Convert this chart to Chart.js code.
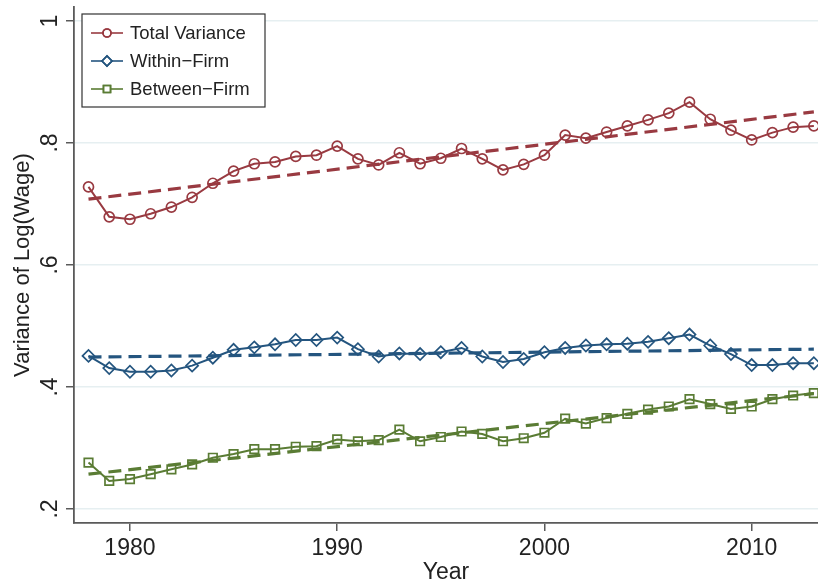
<!DOCTYPE html>
<html>
<head>
<meta charset="utf-8">
<title>Variance of Log(Wage)</title>
<script src="https://cdn.jsdelivr.net/npm/chart.js@4.4.1/dist/chart.umd.min.js"></script>
<style>
    html, body { margin: 0; padding: 0; background: #fff; }
    #wrap { width: 818px; height: 587px; }
</style>
</head>
<body>
<div id="wrap"><canvas id="chart" width="818" height="587"></canvas></div>
<script>
// Years on the x axis
const years = [1978, 1979, 1980, 1981, 1982, 1983, 1984, 1985, 1986, 1987, 1988, 1989,
    1990, 1991, 1992, 1993, 1994, 1995, 1996, 1997, 1998, 1999, 2000, 2001,
    2002, 2003, 2004, 2005, 2006, 2007, 2008, 2009, 2010, 2011, 2012, 2013];

// Series values
const totalVariance = [0.728, 0.679, 0.675, 0.684, 0.695, 0.711, 0.734, 0.754, 0.766, 0.769, 0.778, 0.780,
    0.795, 0.774, 0.764, 0.784, 0.766, 0.775, 0.791, 0.774, 0.756, 0.765, 0.780, 0.813,
    0.808, 0.818, 0.828, 0.838, 0.849, 0.867, 0.839, 0.821, 0.805, 0.817, 0.826, 0.828];
const withinFirm = [0.451, 0.431, 0.425, 0.425, 0.427, 0.435, 0.448, 0.461, 0.465, 0.470, 0.477, 0.477,
    0.481, 0.462, 0.450, 0.455, 0.454, 0.457, 0.464, 0.450, 0.441, 0.446, 0.457, 0.464,
    0.468, 0.470, 0.471, 0.474, 0.480, 0.486, 0.468, 0.454, 0.436, 0.436, 0.439, 0.439];
const betweenFirm = [0.276, 0.246, 0.249, 0.257, 0.265, 0.273, 0.284, 0.290, 0.298, 0.298, 0.302, 0.303,
    0.314, 0.311, 0.313, 0.330, 0.311, 0.318, 0.327, 0.323, 0.311, 0.316, 0.325, 0.348,
    0.340, 0.349, 0.356, 0.363, 0.368, 0.380, 0.372, 0.364, 0.368, 0.380, 0.386, 0.390];

// Fitted trend lines: start and end values
const trendYears = [1978, 2013];
const totalTrend = [0.708, 0.851];
const withinTrend = [0.449, 0.462];
const betweenTrend = [0.257, 0.389];

// Labels and ticks
const seriesLabels = ['Total Variance', 'Within\u2212Firm', 'Between\u2212Firm'];
const xTickValues = [1980, 1990, 2000, 2010];
const yTickValues = [0.2, 0.4, 0.6, 0.8, 1];
const yTickLabels = ['.2', '.4', '.6', '.8', '1'];

const FONT = "'Liberation Sans', Arial, Helvetica, sans-serif";
const RED = '#993a41';
const BLUE = '#24557f';
const GREEN = '#5a7c34';
const AXIS = '#5a5a5a';

function toPoints(xs, ys) {
    return xs.map((x, i) => ({ x: x, y: ys[i] }));
}

function seriesDataset(label, values, color, style, radius) {
    return {
        label: label,
        data: toPoints(years, values),
        borderColor: color,
        borderWidth: 2,
        pointStyle: style,
        pointRadius: radius,
        pointBorderWidth: 1.7,
        pointBorderColor: color,
        pointBackgroundColor: 'rgba(255,255,255,0)',
        tension: 0
    };
}

function trendDataset(values, color) {
    return {
        label: 'trend',
        data: toPoints(trendYears, values),
        borderColor: color,
        borderWidth: 3.2,
        borderDash: [13, 7],
        pointRadius: 0,
        tension: 0
    };
}

/**
 * Draws the boxed legend in the top left corner and the rotated y tick labels
 */
const stataBits = {
    id: 'stataBits',
    afterDraw(chart) {
        const ctx = chart.ctx;
        const yScale = chart.scales.y;

        // rotated y tick labels
        ctx.save();
        ctx.fillStyle = '#222';
        ctx.font = '23px ' + FONT;
        ctx.textAlign = 'center';
        ctx.textBaseline = 'alphabetic';
        yTickValues.forEach((v, i) => {
            ctx.save();
            ctx.translate(57, yScale.getPixelForValue(v));
            ctx.rotate(-Math.PI / 2);
            ctx.fillText(yTickLabels[i], 0, 0);
            ctx.restore();
        });
        ctx.restore();

        // legend box
        const box = { x: 82, y: 14, w: 183, h: 93 };
        ctx.save();
        ctx.fillStyle = '#fff';
        ctx.fillRect(box.x, box.y, box.w, box.h);
        ctx.strokeStyle = '#333';
        ctx.lineWidth = 1.2;
        ctx.strokeRect(box.x, box.y, box.w, box.h);
        ctx.font = '18.5px ' + FONT;
        ctx.textBaseline = 'middle';
        ctx.textAlign = 'left';
        for (let i = 0; i < 3; i++) {
            const ds = chart.data.datasets[i];
            const rowY = box.y + 19 + i * 28;
            ctx.strokeStyle = ds.borderColor;
            ctx.lineWidth = 1.6;
            ctx.beginPath();
            ctx.moveTo(box.x + 9, rowY);
            ctx.lineTo(box.x + 41, rowY);
            ctx.stroke();
            ctx.fillStyle = '#fff';
            Chart.helpers.drawPoint(ctx, {
                pointStyle: ds.pointStyle,
                radius: ds.pointRadius - 1,
                borderWidth: 1.4,
                rotation: 0
            }, box.x + 25, rowY);
            ctx.stroke();
            ctx.fillStyle = '#222';
            ctx.fillText(seriesLabels[i], box.x + 48, rowY + 1);
        }
        ctx.restore();
    }
};

const ctx = document.getElementById('chart').getContext('2d');

new Chart(ctx, {
    type: 'line',
    data: {
        datasets: [
            seriesDataset(seriesLabels[0], totalVariance, RED, 'circle', 5),
            seriesDataset(seriesLabels[1], withinFirm, BLUE, 'rectRot', 6),
            seriesDataset(seriesLabels[2], betweenFirm, GREEN, 'rect', 6),
            trendDataset(totalTrend, RED),
            trendDataset(withinTrend, BLUE),
            trendDataset(betweenTrend, GREEN)
        ]
    },
    options: {
        responsive: false,
        animation: false,
        layout: {
            autoPadding: false,
            padding: { top: 7, right: 0, bottom: 0, left: 0 }
        },
        plugins: {
            legend: { display: false },
            tooltip: { enabled: false }
        },
        scales: {
            x: {
                type: 'linear',
                min: 1977.3,
                max: 2013.2,
                afterBuildTicks: scale => {
                    scale.ticks = xTickValues.map(v => ({ value: v }));
                },
                afterFit: scale => {
                    scale.height = 64;
                    scale.paddingLeft = 0;
                    scale.paddingRight = 0;
                },
                border: { color: AXIS, width: 1.8 },
                grid: {
                    drawOnChartArea: false,
                    drawTicks: true,
                    tickLength: 8,
                    color: AXIS,
                    lineWidth: 1.5
                },
                ticks: {
                    color: '#222',
                    padding: 4,
                    maxRotation: 0,
                    font: { family: FONT, size: 23 },
                    callback: v => String(v)
                },
                title: {
                    display: true,
                    text: 'Year',
                    color: '#222',
                    font: { family: FONT, size: 23 },
                    padding: { top: 0, bottom: 1 }
                }
            },
            y: {
                type: 'linear',
                min: 0.177,
                max: 1.023,
                afterBuildTicks: scale => {
                    scale.ticks = yTickValues.map(v => ({ value: v }));
                },
                afterFit: scale => {
                    scale.width = 74;
                    scale.paddingTop = 0;
                    scale.paddingBottom = 0;
                },
                border: { color: AXIS, width: 1.8 },
                grid: {
                    color: '#e6eff1',
                    lineWidth: 1.5,
                    drawTicks: true,
                    tickLength: 8,
                    tickColor: AXIS,
                    tickWidth: 1.5
                },
                ticks: { display: false },
                title: {
                    display: true,
                    text: 'Variance of Log(Wage)',
                    color: '#222',
                    font: { family: FONT, size: 22 },
                    padding: { top: 10, bottom: 0 }
                }
            }
        }
    },
    plugins: [stataBits]
});
</script>
</body>
</html>
